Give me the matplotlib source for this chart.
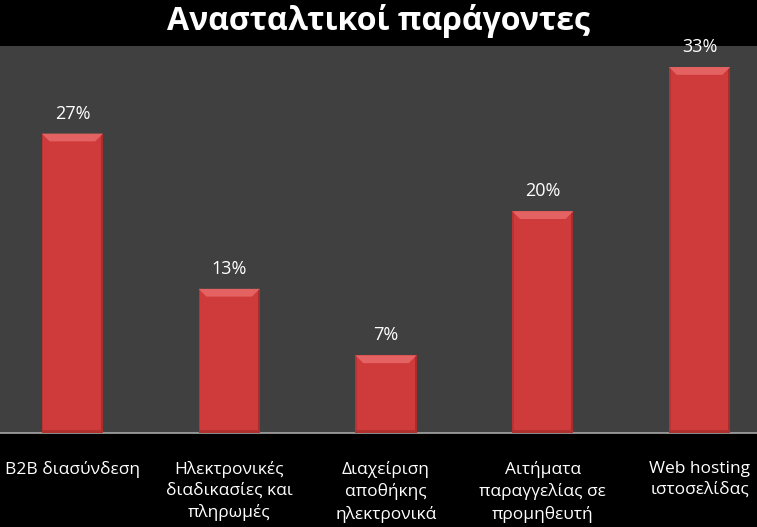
import matplotlib
matplotlib.use("Agg")
import matplotlib.pyplot as plt
from matplotlib.patches import Polygon, Rectangle

plt.rcParams['font.family'] = ['Open Sans', 'DejaVu Sans']

title = 'Ανασταλτικοί παράγοντες'
categories = ['B2B διασύνδεση',
              'Ηλεκτρονικές\nδιαδικασίες και\nπληρωμές',
              'Διαχείριση\nαποθήκης\nηλεκτρονικά',
              'Αιτήματα\nπαραγγελίας σε\nπρομηθευτή',
              'Web hosting\nιστοσελίδας']
values = [27, 13, 7, 20, 33]

W, H = 757, 527
fig = plt.figure(figsize=(W / 100, H / 100), dpi=100, facecolor='black')
# plot area runs a little past the left/right image edges, like the original
ax = fig.add_axes([-6 / W, (H - 433) / H, 784 / W, (433 - 46) / H])
ax.set_facecolor('#404040')

x = list(range(len(values)))
bw = 0.39
bars = ax.bar(x, values, width=bw, color='#cf3b3b', zorder=2)

# simple bevel look on each bar
dx, dy = 0.05, 0.7
for i, b in enumerate(bars):
    x0, x1 = b.get_x(), b.get_x() + b.get_width()
    top = b.get_height()
    ax.add_patch(Rectangle((x1 - 0.012, 0), 0.012, top, color='#a82e2e', zorder=3, lw=0))
    ax.add_patch(Rectangle((x0, 0), 0.01, top, color='#b83333', zorder=3, lw=0))
    ax.add_patch(Polygon([(x0, top), (x1, top), (x1 - dx, top - dy), (x0 + dx, top - dy)],
                         closed=True, color='#e46262', zorder=3, lw=0))
    ax.add_patch(Rectangle((x0, 0), b.get_width(), 0.25, color='#b03030', zorder=3, lw=0))
    ax.text((x0 + x1) / 2, top + 1.0, f'{values[i]}%',
            ha='center', va='bottom', color='white', fontsize=13)

ax.set_xlim(-0.5, len(values) - 0.5)
ax.set_ylim(0, 34.9)
ax.set_yticks([])
ax.set_xticks(x)
ax.set_xticklabels(categories, color='white', fontsize=12.5, linespacing=1.42)
ax.tick_params(axis='x', length=0, pad=20)
for s in ['top', 'left', 'right']:
    ax.spines[s].set_visible(False)
ax.spines['bottom'].set_color('#a6a6a6')
ax.spines['bottom'].set_linewidth(1.2)

fig.text(0.5, 1 - 21 / H, title, ha='center', va='center', color='white',
         fontsize=23, fontweight='bold')

fig.savefig('out.png', dpi=100, facecolor='black')
